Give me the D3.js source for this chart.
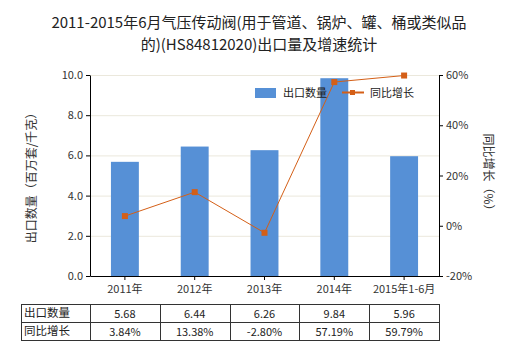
<!DOCTYPE html>
<html><head><meta charset="utf-8">
<script src="https://cdn.jsdelivr.net/npm/d3@7"></script>
<style>body{margin:0;background:#fff}svg{display:block}text{font-family:"Noto Sans CJK SC","Noto Sans",sans-serif}</style>
</head><body><svg id="c" width="520" height="350"></svg>
<script>
const categories = ["2011年","2012年","2013年","2014年","2015年1-6月"];
const exportQty = [5.68,6.44,6.26,9.84,5.96];
const growth = [3.84,13.38,-2.80,57.19,59.79];
const qtyLabels = ["5.68","6.44","6.26","9.84","5.96"];
const growthLabels = ["3.84%","13.38%","-2.80%","57.19%","59.79%"];
const leftTicks = [0,2,4,6,8,10];
const rightTicks = [-20,0,20,40,60];

const svg = d3.select("#c");
const L=90, R=439, T=75, B=276;
const x = d3.scaleBand().domain(categories).range([L,R]).paddingInner(0.6).paddingOuter(0.3);
const xc = d3.scaleBand().domain(categories).range([L,R]);
const y = d3.scaleLinear().domain([0,10]).range([B,T]);
const y2 = d3.scaleLinear().domain([-20,60]).range([B,T]);

// title
const title = svg.append("text").attr("text-anchor","middle").attr("font-size",15).attr("fill","#222");
title.append("tspan").attr("x",259).attr("y",28).text("2011-2015年6月气压传动阀(用于管道、锅炉、罐、桶或类似品");
title.append("tspan").attr("x",259).attr("y",50).text("的)(HS84812020)出口量及增速统计");

// grid
svg.append("g").selectAll("line").data(leftTicks.slice(1)).join("line")
  .attr("x1",L).attr("x2",R).attr("y1",d=>y(d)+0.5).attr("y2",d=>y(d)+0.5)
  .attr("stroke","#ebe8dc").attr("stroke-width",1);

// bars
svg.append("g").selectAll("rect").data(exportQty).join("rect")
  .attr("x",(d,i)=>x(categories[i])).attr("width",x.bandwidth())
  .attr("y",d=>y(d)).attr("height",d=>B-y(d)).attr("fill","#5690d6");

// axes
const fmt = d3.format(".1f");
const ga = svg.append("g").attr("transform",`translate(${L},0)`)
  .call(d3.axisLeft(y).tickValues(leftTicks).tickFormat(fmt).tickSize(4).tickSizeOuter(0));
const gb = svg.append("g").attr("transform",`translate(${R},0)`)
  .call(d3.axisRight(y2).tickValues(rightTicks).tickFormat(d=>d+"%").tickSize(4).tickSizeOuter(0));
const gx = svg.append("g").attr("transform",`translate(0,${B})`)
  .call(d3.axisBottom(xc).tickSize(4).tickSizeOuter(0));
[ga,gb,gx].forEach(g=>{g.selectAll("path,line").attr("stroke","#000");g.selectAll("text").attr("font-size",11).attr("fill","#333").style("font-family","'Noto Sans CJK SC',sans-serif");});
gx.selectAll("text").attr("dy","0.9em");

// line
const line = d3.line().x((d,i)=>xc(categories[i])+xc.bandwidth()/2).y(d=>y2(d));
svg.append("path").datum(growth).attr("d",line).attr("fill","none").attr("stroke","#d45f17").attr("stroke-width",1);
svg.append("g").selectAll("rect").data(growth).join("rect")
  .attr("x",(d,i)=>xc(categories[i])+xc.bandwidth()/2-3).attr("y",d=>y2(d)-3)
  .attr("width",6).attr("height",6).attr("fill","#d45f17");

// axis titles
svg.append("text").attr("transform","translate(36,175) rotate(-90)").attr("text-anchor","middle")
  .attr("font-size",12).attr("fill","#333").text("出口数量（百万套/千克）");
svg.append("text").attr("transform","translate(484,175) rotate(90)").attr("text-anchor","middle")
  .attr("font-size",12).attr("fill","#333").text("同比增长（%）");

// legend
svg.append("rect").attr("x",255).attr("y",88).attr("width",21).attr("height",10).attr("fill","#5690d6");
svg.append("text").attr("x",283).attr("y",97).attr("font-size",11).attr("fill","#222").text("出口数量");
svg.append("line").attr("x1",342).attr("x2",364).attr("y1",92.5).attr("y2",92.5).attr("stroke","#d45f17").attr("stroke-width",2);
svg.append("rect").attr("x",350).attr("y",90).attr("width",5).attr("height",5).attr("fill","#d45f17");
svg.append("text").attr("x",370).attr("y",97).attr("font-size",11).attr("fill","#222").text("同比增长");

// table
const tT=304, tM=322, tB=340, tL=21;
const tbl = svg.append("g");
tbl.append("rect").attr("x",tL+0.5).attr("y",tT+0.5).attr("width",R-tL).attr("height",tB-tT).attr("fill","none").attr("stroke","#333");
tbl.append("line").attr("x1",tL).attr("x2",R).attr("y1",tM+0.5).attr("y2",tM+0.5).attr("stroke","#333");
tbl.selectAll("line.v").data(categories).join("line").attr("class","v")
  .attr("x1",d=>Math.round(xc(d))+0.5).attr("x2",d=>Math.round(xc(d))+0.5).attr("y1",tT).attr("y2",tB).attr("stroke","#333");
const rows=[["出口数量",qtyLabels],["同比增长",growthLabels]];
rows.forEach((r,ri)=>{
  const yy = (ri===0?tT:tM)+14;
  tbl.append("text").attr("x",tL+3).attr("y",yy-1).attr("font-size",11.5).attr("fill","#222").text(r[0]);
  r[1].forEach((v,i)=>tbl.append("text").attr("x",xc(categories[i])+xc.bandwidth()/2).attr("y",yy).attr("text-anchor","middle").attr("font-size",11).attr("fill","#222").text(v));
});
</script></body></html>
